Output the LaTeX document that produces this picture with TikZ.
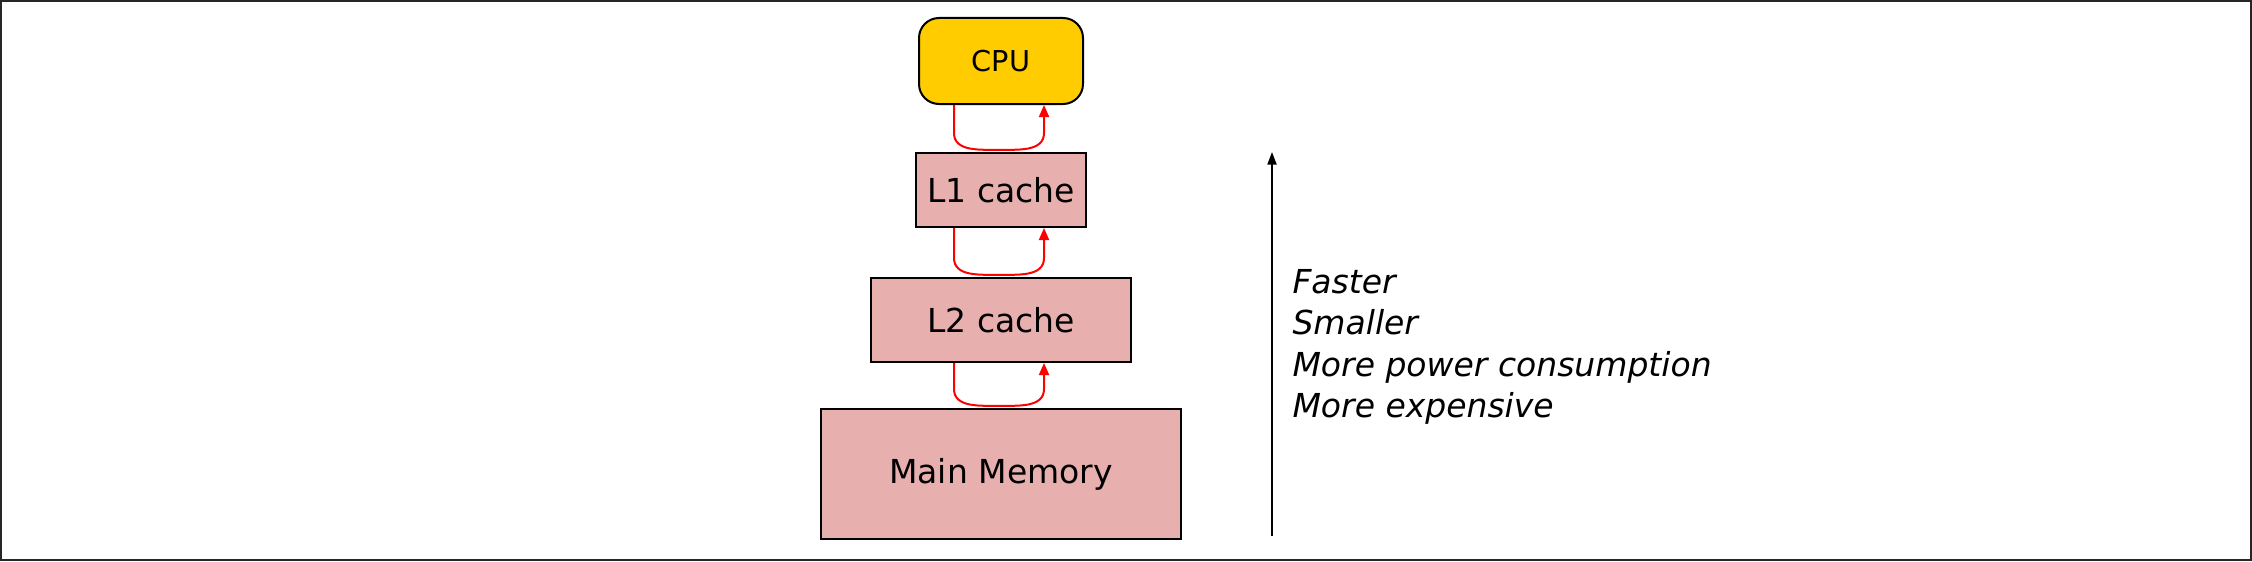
\documentclass[tikz,border=0pt]{standalone}
\usepackage{fontspec}
\setmainfont{DejaVu Sans}
\usepackage{tikz}
\usetikzlibrary{positioning,arrows.meta}
\definecolor{cpuyellow}{RGB}{255,204,0}
\definecolor{cachepink}{RGB}{232,175,175}

\begin{document}
\begin{tikzpicture}[x=0.4pt, y=-0.4pt,
      level/.style={draw, line width=0.8pt, fill=cachepink, inner sep=0pt,
                    align=center, font=\fontsize{13.2}{16}\selectfont},
      feed/.style={-{Triangle[length=4.8pt, width=4pt]}, red, line width=0.8pt},
      up/.style={-{Triangle[length=5pt, width=3.6pt]}, line width=0.7pt}]
    \useasboundingbox (0,0) rectangle (2252,561);
    \draw[line width=0.8pt, black!85] (1,1) rectangle (2251,560);
    % memory hierarchy, bottom to top
    \node[level, minimum width=144pt, minimum height=52pt] (mm) at (1001,474) {Main Memory};
    \node[level, minimum width=104pt, minimum height=33.6pt, above=18pt of mm] (l2) {L2 cache};
    \node[level, minimum width=68pt, minimum height=29.6pt, above=19.6pt of l2] (l1) {L1 cache};
    \node[level, fill=cpuyellow, rounded corners=8pt, minimum width=65.6pt,
          minimum height=34.4pt, font=\fontsize{11.5}{14}\selectfont,
          above=18.8pt of l1] (cpu) {CPU};
    \foreach \hi/\lo in {cpu/l1, l1/l2, l2/mm}
      \draw[feed] ([xshift=-18.8pt]\hi.south) -- ([xshift=-18.8pt, yshift=7.6pt]\lo.north)
        to[out=-90, in=180] ([xshift=-0.8pt, yshift=0.9pt]\lo.north)
        to[out=0, in=-90] ([xshift=17.2pt, yshift=7.6pt]\lo.north)
        -- ([xshift=17.2pt]\hi.south);
    % trend arrow
    \coordinate (slow) at (1272,536);
    \coordinate (fast) at (1272,152);
    \draw[up] (slow) -- (fast);
    \node[anchor=west, align=left, inner sep=0pt, font=\itshape\fontsize{13.2}{16.6}\selectfont]
      (trend) at (1292,347) {Faster\\Smaller\\More power consumption\\More expensive};
  \end{tikzpicture}
\end{document}
